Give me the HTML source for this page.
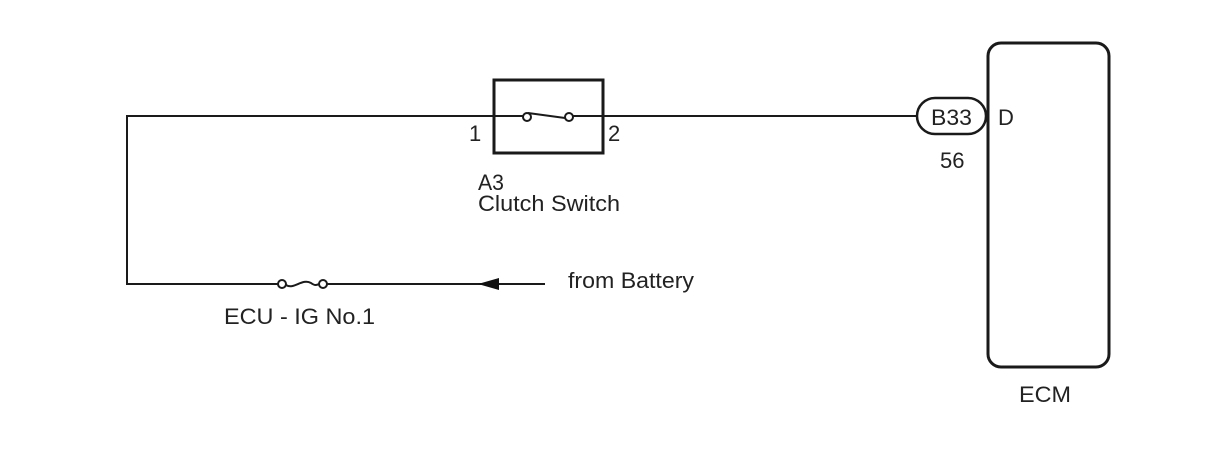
<!DOCTYPE html>
<html><head><meta charset="utf-8"><style>
html,body{margin:0;padding:0;background:#fff;}
svg{display:block;}
text{font-family:"Liberation Sans",Arial,sans-serif;font-size:22px;fill:#222;}
</style></head><body>
<svg width="1210" height="474" viewBox="0 0 1210 474" xmlns="http://www.w3.org/2000/svg">
<g stroke="#1a1a1a" fill="none" stroke-width="2">
<polyline points="917,116 603,116"/>
<polyline points="493,116 127,116 127,284 278,284"/>
<line x1="327" y1="284" x2="545" y2="284"/>
<rect x="494" y="80" width="109" height="73" stroke-width="3"/>
<line x1="493" y1="116" x2="523" y2="116"/>
<line x1="573" y1="116" x2="603" y2="116"/>
<line x1="528" y1="113" x2="565" y2="118"/>
<circle cx="527" cy="117" r="4" fill="#fff"/>
<circle cx="569" cy="117" r="4" fill="#fff"/>
<circle cx="282" cy="284" r="4" fill="#fff"/>
<circle cx="323" cy="284" r="4" fill="#fff"/>
<path d="M286,285 C294,290 302,278 311,283 C315,286 317,285 319,284"/>
<rect x="917" y="98" width="69" height="36" rx="18" stroke-width="2.5"/>
<rect x="988" y="43" width="121" height="324" rx="13" stroke-width="3"/>
</g>
<polygon points="478,284 499,278 499,290" fill="#111"/>
<text x="469" y="141">1</text>
<text x="608" y="141">2</text>
<text x="478" y="190" textLength="26" lengthAdjust="spacingAndGlyphs">A3</text>
<text x="478" y="211" textLength="142" lengthAdjust="spacingAndGlyphs">Clutch Switch</text>
<text x="224" y="324" textLength="151" lengthAdjust="spacingAndGlyphs">ECU - IG No.1</text>
<text x="568" y="288" textLength="126" lengthAdjust="spacingAndGlyphs">from Battery</text>
<text x="931" y="125" textLength="41" lengthAdjust="spacingAndGlyphs">B33</text>
<text x="998" y="125">D</text>
<text x="940" y="168">56</text>
<text x="1019" y="402" textLength="52" lengthAdjust="spacingAndGlyphs">ECM</text>
</svg>
</body></html>
